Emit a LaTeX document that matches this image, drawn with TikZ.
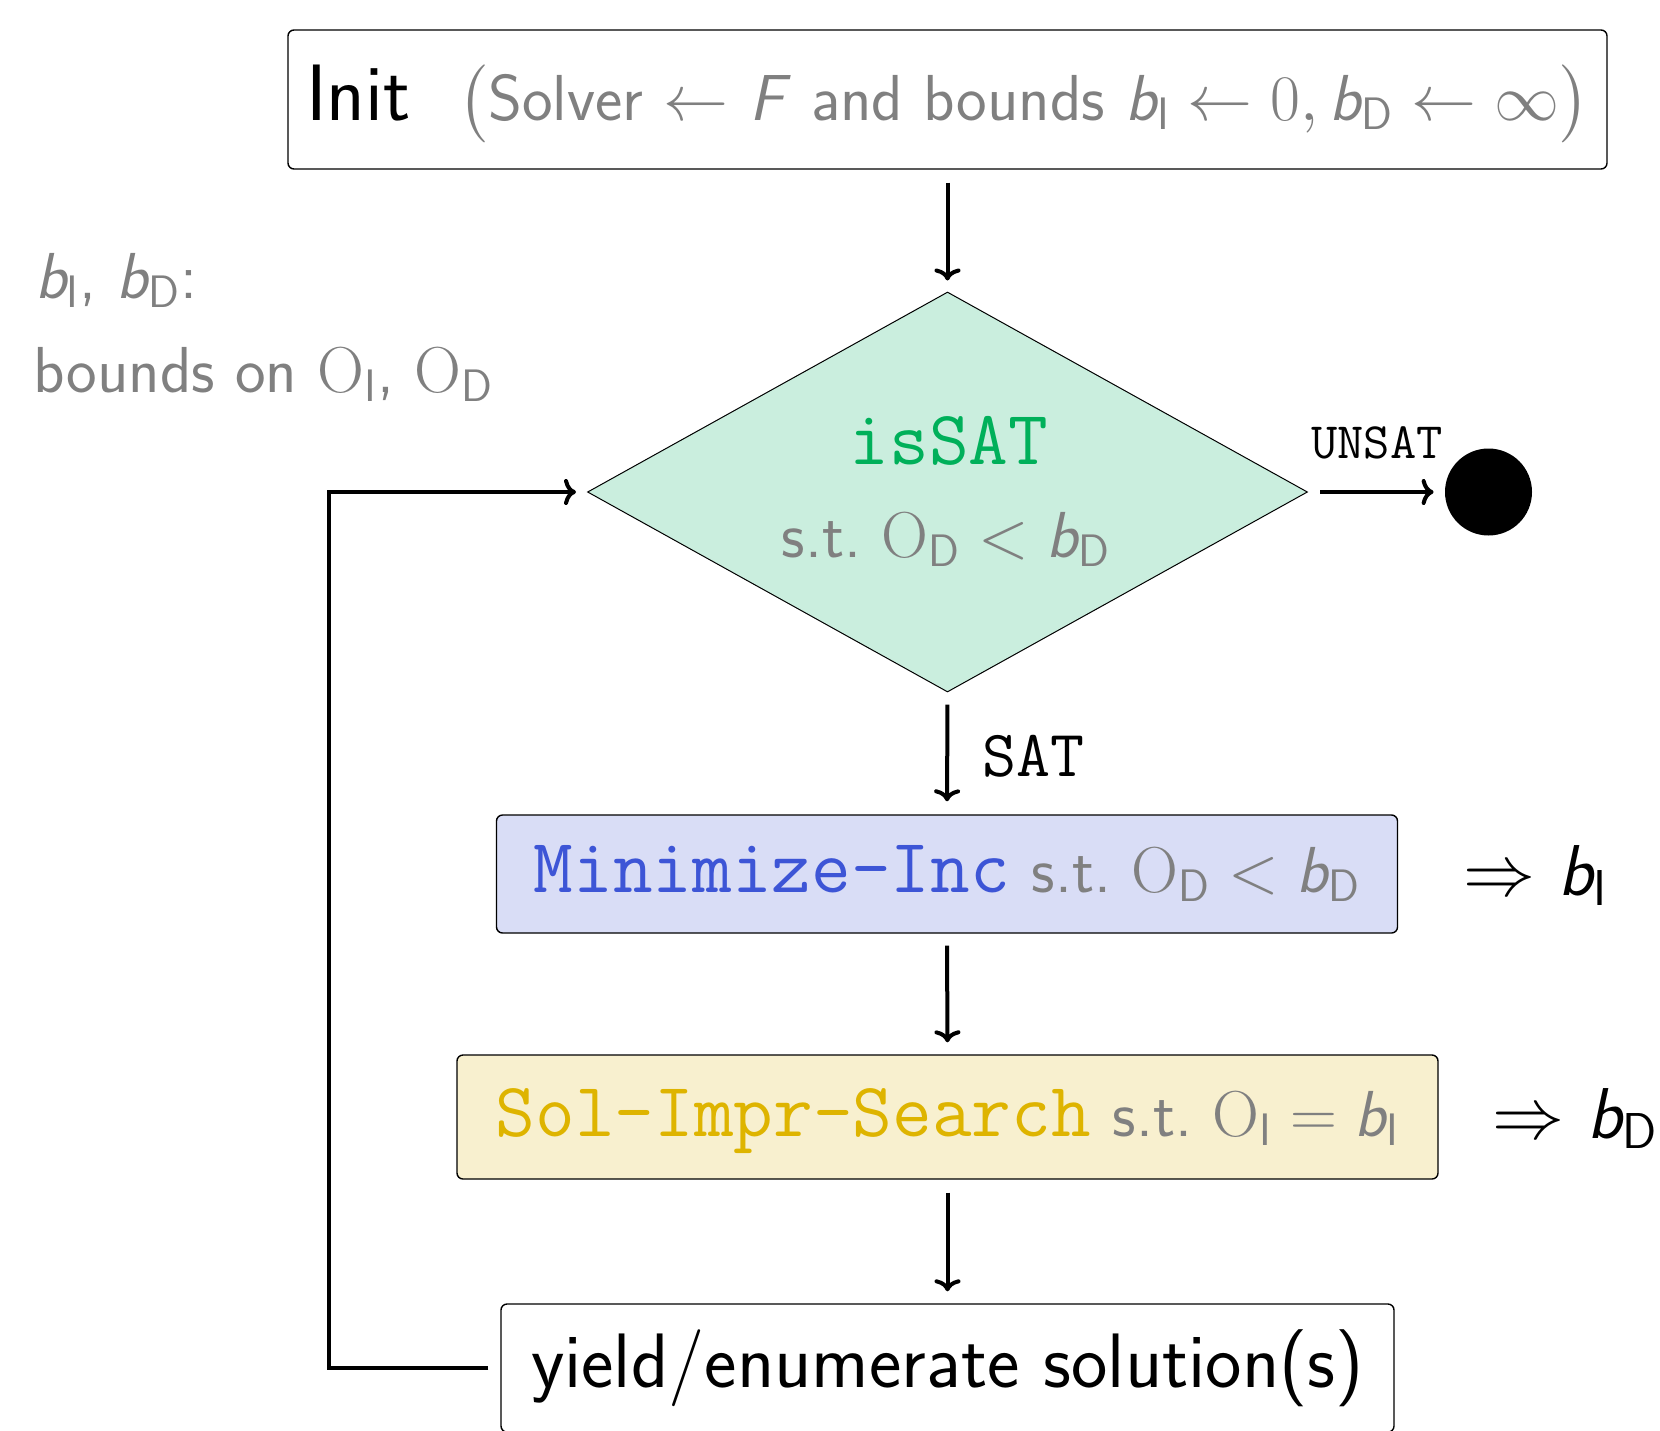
\documentclass[tikz,border=0pt]{standalone}
\usepackage{amsmath}
\DeclareFontShape{OT1}{cmr}{m}{n}{<-14>cmr10<14->cmr17}{}
\DeclareFontShape{OML}{cmm}{m}{it}{<->cmmi10}{}
\DeclareFontShape{OMS}{cmsy}{m}{n}{<->cmsy10}{}
\DeclareFontShape{OMX}{cmex}{m}{n}{<->cmex10}{}
\usetikzlibrary{shapes.geometric,arrows.meta}
\renewcommand{\familydefault}{\sfdefault}
\definecolor{txtgrey}{RGB}{128,128,128}
\definecolor{diafill}{RGB}{202,238,222}
\definecolor{satgreen}{RGB}{0,176,90}
\definecolor{minfill}{RGB}{217,221,246}
\definecolor{mintext}{RGB}{61,85,214}
\definecolor{solfill}{RGB}{248,240,207}
\definecolor{soltext}{RGB}{222,180,0}
\newcommand{\bI}{\ensuremath{\textit{b}_{\textsf{I}}}}
\newcommand{\bD}{\ensuremath{\textit{b}_{\textsf{D}}}}
\newcommand{\OI}{\ensuremath{\mathrm{O}_{\textsf{I}}}}
\newcommand{\OD}{\ensuremath{\mathrm{O}_{\textsf{D}}}}
\newcommand{\fs}[1]{\fontsize{#1}{1.2\dimexpr#1pt\relax}\selectfont}
\begin{document}
\begin{tikzpicture}[x=0.5pt,y=-0.5pt,
  boxstyle/.style={draw, rounded corners=3pt, line width=0.7pt, inner sep=0pt, anchor=center},
  arr/.style={-{Computer Modern Rightarrow[length=6pt,width=13pt]}, line width=2pt},
  note/.style={inner sep=0pt, text=txtgrey}]
\useasboundingbox (0,0) rectangle (1660,1430);

% boxes
\node[boxstyle, minimum width=659.5pt, minimum height=69.5pt, text height=28pt, text depth=7.5pt] (init) at (947.5,99.5)
  {\fs{40}Init\hspace{24pt}{\color{txtgrey}\fs{32.5}$\big($Solver $\leftarrow$ \textit{F} and bounds $\bI \leftarrow 0, \bD \leftarrow \infty\big)$}};

\node[diamond, draw, line width=0.5pt, fill=diafill, inner sep=0pt, minimum width=360pt, minimum height=200pt] (dia) at (947.5,492) {};
\node[anchor=base, inner sep=0pt, text=satgreen] (issat) at (949,464) {\fs{38.5}\ttfamily isSAT};
\node[anchor=base, inner sep=0pt, text=txtgrey] (dst) at (946,557) {\fs{32.5}s.t.\ $\OD < \bD$};

\node[circle, fill=black, inner sep=0pt, minimum size=43.5pt] (stop) at (1488.5,492) {};
\node[anchor=base, inner sep=0pt] (unsat) at (1377,458) {\fs{25.5}\ttfamily UNSAT};

\node[boxstyle, fill=minfill, minimum width=450.5pt, minimum height=59pt, text height=24pt, text depth=6pt] (minc) at (947,874)
  {{\color{mintext}\fs{38.5}\ttfamily Minimize-Inc}\hspace{11pt}{\color{txtgrey}\fs{32.5}s.t.\ $\OD < \bD$}};

\node[boxstyle, fill=solfill, minimum width=490.5pt, minimum height=62pt, text height=25pt, text depth=6pt] (sol) at (947.5,1117)
  {{\color{soltext}\fs{38.5}\ttfamily Sol-Impr-Search}\hspace{11pt}{\color{txtgrey}\fs{32.5}s.t.\ $\OI = \bI$}};

\node[boxstyle, minimum width=446.5pt, minimum height=64pt, text height=29pt, text depth=10pt] (yield) at (947.5,1368)
  {\fs{38.6}yield/enumerate solution(s)};

\node[anchor=base west, inner sep=0pt] (sat) at (982,776) {\fs{33}\ttfamily SAT};

\node[anchor=base west, inner sep=0pt] (resI) at (1463,895) {\fs{36}$\Rightarrow$\hspace{0.32em}\bI};
\node[anchor=base west, inner sep=0pt] (resD) at (1492,1138) {\fs{36}$\Rightarrow$\hspace{0.32em}\bD};

\node[note, anchor=base west] (note1) at (35,298) {\fs{32.5}\bI,\ \bD:};
\node[note, anchor=base west] (note2) at (33,392) {\fs{32.5}bounds on \OI, \OD};

% connectors
\draw[arr, shorten <=6.5pt, shorten >=5.5pt] (init.south) -- (dia.north);
\draw[arr, shorten <=6pt, shorten >=5.5pt] (dia.east) -- (stop.west);
\draw[arr, shorten <=6pt, shorten >=6.5pt] (dia.south) -- (minc.north);
\draw[arr, shorten <=6pt, shorten >=6pt] (minc.south) -- (sol.north);
\draw[arr, shorten <=6.5pt, shorten >=6pt] (sol.south) -- (yield.north);
\coordinate (loopc) at (329,492);
\draw[arr, shorten >=5.5pt] ([xshift=-6pt]yield.west) -| (loopc) -- (dia.west);
\end{tikzpicture}
\end{document}
